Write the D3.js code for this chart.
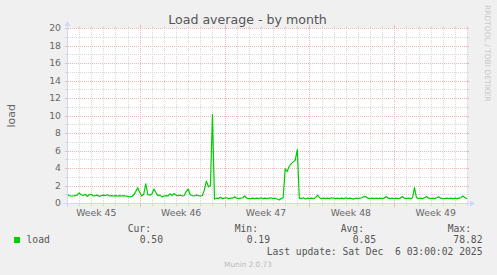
<!DOCTYPE html>
<html><head><meta charset="utf-8">
<script src="https://cdn.jsdelivr.net/npm/d3@7"></script>
<style>html,body{margin:0;padding:0;background:#F0F0F0;}svg{display:block;}</style>
</head><body>
<svg id="chart" width="497" height="275"></svg>
<script>
// ---- data ----
const title = "Load average - by month";
const yAxisLabel = "load";
const seriesName = "load";
const startTime = Date.UTC(2025, 10, 4, 0, 0);   // left edge of graph
const endTime = Date.UTC(2025, 11, 7, 0, 0);     // right edge of graph
const stepHours = 4;
const loadValues = [
  1.0,0.85,0.8,0.8,0.85,0.9,1.15,0.95,0.85,1.0,
  0.75,0.95,1.0,0.8,0.85,0.9,0.75,0.85,0.9,0.85,
  0.95,0.8,0.85,0.8,0.85,0.8,0.85,0.8,0.85,0.8,
  0.75,0.7,0.75,0.9,1.3,1.75,1.2,0.8,1.0,2.2,
  0.95,0.9,1.0,1.6,1.2,0.85,0.9,0.7,0.8,0.85,
  0.8,1.05,0.85,1.1,0.9,0.85,0.9,0.8,0.85,1.3,
  1.6,0.95,0.85,0.8,0.9,0.85,0.8,0.85,1.5,2.5,
  1.85,2.0,10.1,0.45,0.55,0.5,0.65,0.5,0.55,0.6,
  0.5,0.55,0.55,0.7,0.55,0.5,0.55,0.6,0.8,0.55,
  0.5,0.5,0.55,0.5,0.55,0.5,0.6,0.5,0.55,0.5,
  0.55,0.6,0.5,0.55,0.45,0.35,0.5,0.6,3.9,3.6,
  4.2,4.5,4.7,4.9,6.1,0.55,0.5,0.6,0.45,0.55,
  0.5,0.55,0.5,0.6,0.9,0.6,0.5,0.55,0.5,0.55,
  0.5,0.6,0.55,0.5,0.55,0.5,0.55,0.5,0.6,0.5,
  0.55,0.5,0.45,0.55,0.5,0.55,0.6,0.75,0.7,0.55,
  0.5,0.55,0.5,0.55,0.5,0.55,0.5,0.55,0.75,0.55,
  0.5,0.55,0.5,0.55,0.5,0.55,0.75,0.55,0.5,0.55,
  0.5,0.6,1.75,0.6,0.5,0.55,0.5,0.6,0.75,0.55,
  0.5,0.55,0.5,0.6,0.7,0.55,0.5,0.5,0.55,0.5,
  0.55,0.5,0.55,0.5,0.55,0.6,0.8,0.6,0.5
];
const yTicks = [0,2,4,6,8,10,12,14,16,18,20];
const yMinorTicks = d3.range(0, 21, 1);
const weekStarts = [Date.UTC(2025,10,3), Date.UTC(2025,10,10), Date.UTC(2025,10,17), Date.UTC(2025,10,24), Date.UTC(2025,11,1)];
const weekLabels = ["Week 45","Week 46","Week 47","Week 48","Week 49"];
const legendHeaders = ["Cur:","Min:","Avg:","Max:"];
const legendValues = ["0.50","0.19","0.85","78.82"];
const lastUpdate = "Last update: Sat Dec  6 03:00:02 2025";
const footer = "Munin 2.0.73";
const watermark = "RRDTOOL / TOBI OETIKER";

// ---- layout ----
const X0 = 67, X1 = 467, Y0 = 203, Y1 = 28;
const svg = d3.select("#chart");
const x = d3.scaleUtc().domain([startTime, endTime]).range([X0, X1]);
const y = d3.scaleLinear().domain([0, 20]).range([Y0, Y1]);
const FONT = "'DejaVu Sans', sans-serif";
const MONO = "'DejaVu Sans Mono', monospace";
const textCol = "#666666";
const minorCol = "#D8D8D8";
const majorCol = "#F0B4B4";

const defs = svg.append("defs");
function dotPattern(id, w, h, col) {
  const p = defs.append("pattern").attr("id", id).attr("patternUnits","userSpaceOnUse")
    .attr("x",0).attr("y",0).attr("width", w).attr("height", h);
  p.append("rect").attr("x",0).attr("y",0).attr("width",1).attr("height",1).attr("fill",col);
}
dotPattern("hMinor", 2, 1, minorCol);
dotPattern("hMajor", 2, 1, majorCol);
dotPattern("vMinor", 1, 2, minorCol);
dotPattern("vMajor", 1, 2, majorCol);

svg.append("rect").attr("width",497).attr("height",275).attr("fill","#F0F0F0");
svg.append("rect").attr("x",X0).attr("y",Y1).attr("width",X1-X0).attr("height",Y0-Y1).attr("fill","#FFFFFF");

const grid = svg.append("g").attr("shape-rendering","crispEdges");
const ry = v => Math.round(y(v));
const rx = d => Math.round(x(d));
const weekSet = new Set(weekStarts);

// horizontal minor grid
yMinorTicks.filter(v => v % 2 !== 0).forEach(v => {
  grid.append("rect").attr("x",X0+1).attr("y",ry(v)).attr("width",X1-X0-1).attr("height",1).attr("fill","url(#hMinor)");
  grid.append("rect").attr("x",X0-2).attr("y",ry(v)).attr("width",2).attr("height",1).attr("fill",minorCol);
  grid.append("rect").attr("x",X1).attr("y",ry(v)).attr("width",2).attr("height",1).attr("fill",minorCol);
});
// vertical minor grid (days, excluding week boundaries)
const days = d3.utcDay.range(startTime, endTime + 1).filter(d => !weekSet.has(+d) && +d > startTime);
days.forEach(d => {
  grid.append("rect").attr("x",rx(d)).attr("y",Y1).attr("width",1).attr("height",Y0-Y1).attr("fill","url(#vMinor)");
  grid.append("rect").attr("x",rx(d)).attr("y",Y0+1).attr("width",1).attr("height",2).attr("fill",minorCol);
  grid.append("rect").attr("x",rx(d)).attr("y",Y1-2).attr("width",1).attr("height",2).attr("fill",minorCol);
});
// horizontal major grid
yTicks.forEach(v => {
  grid.append("rect").attr("x",X0+1).attr("y",ry(v)).attr("width",X1-X0-1).attr("height",1).attr("fill","url(#hMajor)");
  grid.append("rect").attr("x",X0-2).attr("y",ry(v)).attr("width",2).attr("height",1).attr("fill",majorCol);
  grid.append("rect").attr("x",X1).attr("y",ry(v)).attr("width",2).attr("height",1).attr("fill",majorCol);
});
// vertical major grid (weeks)
weekStarts.filter(d => d > startTime).forEach(d => {
  grid.append("rect").attr("x",rx(d)).attr("y",Y1).attr("width",1).attr("height",Y0-Y1).attr("fill","url(#vMajor)");
  grid.append("rect").attr("x",rx(d)).attr("y",Y0+1).attr("width",1).attr("height",3).attr("fill",majorCol);
  grid.append("rect").attr("x",rx(d)).attr("y",Y1-3).attr("width",1).attr("height",3).attr("fill",majorCol);
});

// y labels
svg.append("g").selectAll("text").data(yTicks).join("text")
  .attr("x", 61).attr("y", d => y(d) + 3.4)
  .attr("text-anchor","end").attr("font-family",FONT).attr("font-size","9.3px").attr("fill",textCol)
  .text(d => d);
// week labels
svg.append("g").selectAll("text").data(weekStarts).join("text")
  .attr("x", d => x(d + 3.5*864e5) - 1).attr("y", 215.5)
  .attr("text-anchor","middle").attr("font-family",FONT).attr("font-size","9.3px").attr("fill",textCol)
  .text((d,i) => weekLabels[i]);

// data line
const line = d3.line()
  .x((d,i) => x(startTime + i*stepHours*3600e3))
  .y(d => y(Math.min(d, 20)));
svg.append("path").datum(loadValues).attr("d", line)
  .attr("fill","none").attr("stroke","#00CC00").attr("stroke-width",1.2).attr("stroke-linejoin","round");

// axes
const axisCol = "#CFD6F8";
const ax = svg.append("g").attr("shape-rendering","crispEdges");
ax.append("rect").attr("x",X0-4).attr("y",Y0).attr("width",X1-X0+7).attr("height",1).attr("fill",axisCol);
ax.append("rect").attr("x",X0).attr("y",Y1-5).attr("width",1).attr("height",Y0-Y1+9).attr("fill",axisCol);
const ar = svg.append("g");
ar.append("path").attr("d",`M${X1+3},${Y0-2.5}L${X1+8},${Y0+0.5}L${X1+3},${Y0+3.5}Z`).attr("fill",axisCol);
ar.append("path").attr("d",`M${X0-2.5},${Y1-2}L${X0+0.5},${Y1-7}L${X0+3.5},${Y1-2}Z`).attr("fill",axisCol);

// title
svg.append("text").attr("x",247.5).attr("y",24.2).attr("text-anchor","middle")
  .attr("font-family",FONT).attr("font-size","12.6px").attr("fill","#555555").text(title);
// y axis label
svg.append("text").attr("transform","translate(14.5,115.8) rotate(-90)").attr("text-anchor","middle")
  .attr("font-family",FONT).attr("font-size","11px").attr("fill",textCol).text(yAxisLabel);
// watermark
svg.append("text").attr("transform","translate(484.6,5) rotate(90)").attr("text-anchor","start")
  .attr("font-family",FONT).attr("font-size","7.5px").attr("fill","#C8C8C8").text(watermark);

// legend
const lg = svg.append("g").attr("font-family",MONO).attr("font-size","9.7px").attr("fill","#555555");
const colRight = [151, 258, 364, 471];
const valRight = [163, 270, 376, 482.5];
legendHeaders.forEach((h,i) => lg.append("text").attr("x",colRight[i]).attr("y",231.7).attr("text-anchor","end").text(h));
legendValues.forEach((v,i) => lg.append("text").attr("x",valRight[i]).attr("y",243).attr("text-anchor","end").text(v));
svg.append("rect").attr("x",14).attr("y",237).attr("width",6).attr("height",6).attr("fill","#00CC00");
lg.append("text").attr("x",26.5).attr("y",243).text(seriesName);
lg.append("text").attr("x",482.5).attr("y",254.5).attr("text-anchor","end").attr("xml:space","preserve").style("white-space","pre").text(lastUpdate);
svg.append("text").attr("x",248).attr("y",267).attr("text-anchor","middle")
  .attr("font-family",FONT).attr("font-size","7.3px").attr("fill","#BBBBBB").text(footer);
</script>
</body></html>
